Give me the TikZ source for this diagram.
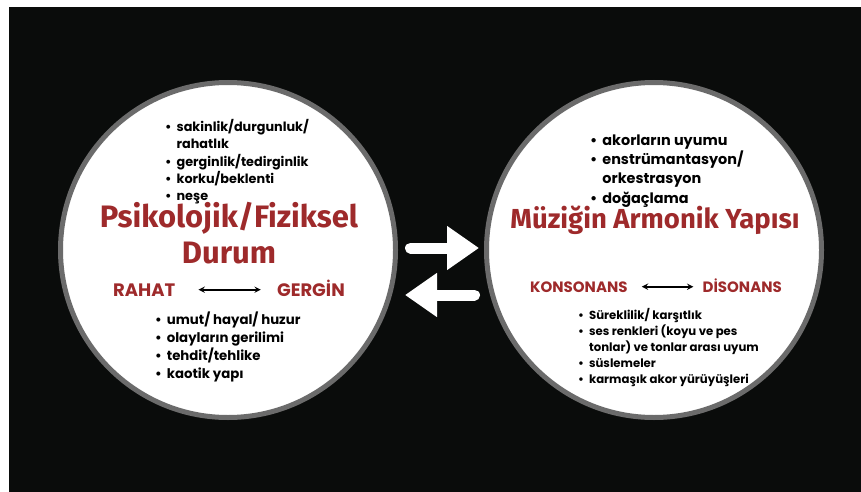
\documentclass[tikz,border=0pt]{standalone}
\usepackage{fontspec}
\setmainfont{Fira Sans}
\newfontfamily\listfont{Poppins}
\usetikzlibrary{positioning, arrows, arrows.meta}

\definecolor{bgblack}{HTML}{0A0C0B}
\definecolor{ringgray}{HTML}{6B6B6B}
\definecolor{titlered}{HTML}{9E2A2B}
\newcommand{\itemlist}[1]{\begin{tabular}[t]{@{}l@{\hspace{5pt}}l@{}}#1\end{tabular}}

\begin{document}
\begin{tikzpicture}[x=1pt,y=-1pt]
\tikzstyle{every node}=[inner sep=0pt]
\tikzstyle{topic}=[circle, draw=ringgray, line width=5pt, fill=white, minimum size=335pt]
\tikzstyle{heading}=[anchor=base, text=titlered, font=\bfseries]
\tikzstyle{pole}=[text=titlered, font=\listfont\bfseries]
\tikzstyle{bullets}=[anchor=base west, font=\listfont\bfseries]
\tikzstyle{flip}=[draw,<->,>=stealth,line width=1.8pt]
\tikzstyle{swap}=[draw=white, line width=11pt, line cap=round, -{Triangle[length=32pt,width=42pt]}]

\useasboundingbox (0,0) rectangle (861,492);
\fill[bgblack] (9,7) rectangle (861,492);

\node[topic] at (228,250) (psy) {};
\node[topic] at (654,250) (harm) {};

% left circle
\node[bullets] at (165,131.7) (psytop) {\fontsize{12.8}{17.2}\selectfont\itemlist{%
  • & sakinlik/durgunluk/\\ & rahatlık\\ • & gerginlik/tedirginlik\\
  • & korku/beklenti\\ • & neşe}};
\node[heading] at (229,227) (psyhead) {\fontsize{31}{34}\selectfont Psikolojik/Fiziksel};
\node[heading] at (229,263) (psydur) {\fontsize{31}{34}\selectfont Durum};
\node[pole, anchor=base west] at (113,296) (rahat) {\fontsize{18}{20}\selectfont RAHAT};
\node[pole, anchor=base east] at (345,296) (gergin) {\fontsize{18}{20}\selectfont GERGİN};
\draw[flip] ([xshift=23pt]rahat.east) -- ([xshift=-16pt]rahat.east -| gergin.west);
\node[bullets] at (155,324) (psybot) {\fontsize{13.3}{18.3}\selectfont\itemlist{%
  • & umut/ hayal/ huzur\\ • & olayların gerilimi\\
  • & tehdit/tehlike\\ • & kaotik yapı}};

% right circle
\node[bullets] at (590,145) (harmtop) {\fontsize{14.4}{19.3}\selectfont\itemlist{%
  • & akorların uyumu\\ • & enstrümantasyon/\\ & orkestrasyon\\
  • & doğaçlama}};
\node[heading] at (655,228) (harmhead) {\fontsize{27.5}{30}\selectfont Müziğin Armonik Yapısı};
\node[pole, anchor=base west] at (530,292) (kons) {\fontsize{15}{16}\selectfont KONSONANS};
\node[pole, anchor=base east] at (782,292) (dis) {\fontsize{15}{16}\selectfont DİSONANS};
\draw[flip] ([xshift=14pt]kons.east) -- ([xshift=-9pt]kons.east -| dis.west);
\node[bullets] at (578,319) (harmbot) {\fontsize{11.7}{16}\selectfont\itemlist{%
  • & Süreklilik/ karşıtlık\\ • & ses renkleri (koyu ve pes\\
  & tonlar) ve tonlar arası uyum\\ • & süslemeler\\
  • & karmaşık akor yürüyüşleri}};

% exchange arrows
\coordinate (fwd0) at (410.5,248);
\coordinate (fwd1) at (479,248);
\coordinate (back0) at (474.5,295);
\coordinate (back1) at (405,295);
\draw[swap] (fwd0) -- (fwd1);
\draw[swap] (back0) -- (back1);
\end{tikzpicture}
\end{document}
